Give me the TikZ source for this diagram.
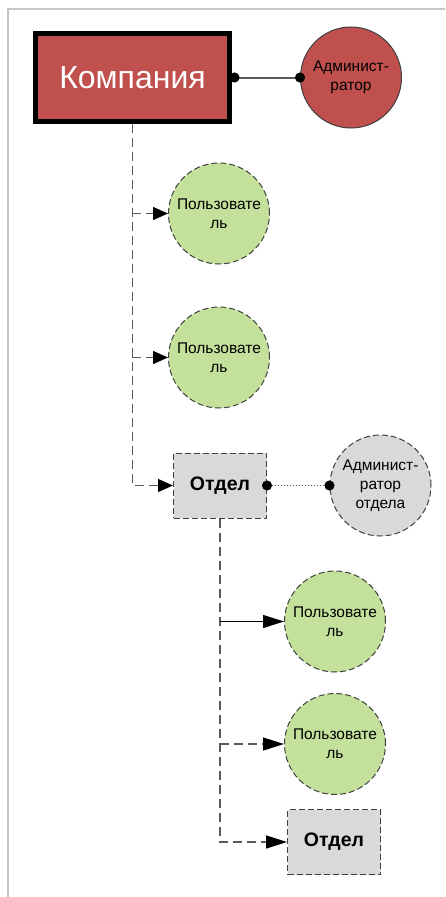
\documentclass[tikz,border=0pt]{standalone}
\usepackage{fontspec}
\setmainfont{Liberation Sans}
\usepackage{xcolor}
\usepackage{tikz}
\usetikzlibrary{positioning,arrows.meta}

\definecolor{compred}{RGB}{192,80,77}
\definecolor{usergreen}{RGB}{195,225,155}
\definecolor{deptgray}{RGB}{217,217,217}
\definecolor{edgegray}{RGB}{64,64,64}
\definecolor{linegray}{RGB}{90,90,90}

\begin{document}
\begin{tikzpicture}[node distance=136pt,
    >={Triangle[length=15pt,width=13pt,color=black]},
    company/.style={rectangle, draw=black, line width=5pt, fill=compred, minimum width=194pt, minimum height=88pt, text=white, font=\fontsize{32}{38}\selectfont},
    admin/.style={circle, draw=edgegray, line width=1pt, fill=compred, minimum size=101pt, inner sep=0pt, align=center, font=\fontsize{15.5}{19}\selectfont},
    user/.style={circle, draw=edgegray, line width=1pt, dash pattern=on 6pt off 3pt, fill=usergreen, minimum size=101pt, inner sep=0pt, align=center, font=\fontsize{15.5}{19}\selectfont},
    deptbox/.style={rectangle, draw=edgegray, line width=1pt, dash pattern=on 6pt off 3pt, fill=deptgray, minimum width=93pt, minimum height=65pt, font=\bfseries\fontsize{19.5}{23}\selectfont},
    dashline/.style={draw=linegray, line width=1.4pt, dash pattern=on 9pt off 5pt},
    fullline/.style={draw=black, line width=1.1pt},
    bigtip/.style={-{Triangle[length=21pt,width=13pt,color=black]}},
    dotends/.style={{Circle[length=10pt,color=black]}-{Circle[length=10pt,color=black]}, shorten <=-5pt, shorten >=-5pt}]
    \useasboundingbox (-132.5pt,77.5pt) rectangle (312.5pt,-819.5pt);
    \draw[gray!45, line width=2pt] (-124.5pt,-819.5pt) -- (-124.5pt,68.5pt) -- (312.5pt,68.5pt);

    \node (Comp) [company] {Компания};
    \node (Adm) [admin, right of=Comp, xshift=82.5pt] {Админист-\\ратор};
    \node (U1) [user, below of=Comp, xshift=86.5pt] {Пользовате\\ль};
    \node (U2) [user, below of=U1, yshift=-8pt] {Пользовате\\ль};
    \node (Dept) [deptbox, below of=U2, xshift=1pt, yshift=8pt] {Отдел};
    \node (AdmDept) [user, fill=deptgray, right of=Dept, xshift=24.5pt] {Админист-\\ратор\\отдела};
    \node (U3) [user, below of=Dept, xshift=115pt] {Пользовате\\ль};
    \node (U4) [user, below of=U3, yshift=13.5pt] {Пользовате\\ль};
    \node (Dept2) [deptbox, below of=U4, xshift=-1pt, yshift=38pt] {Отдел};

    \draw[dotends, linegray, line width=2pt] ([xshift=2.5pt]Comp.east) -- (Adm.west);
    \draw[dotends, linegray, line width=1pt, dotted] (Dept.east) -- (AdmDept.west);

    \draw[dashline, ->] (Comp.south) |- (Dept.west);
    \draw[dashline, ->] (Comp.south |- U1.west) -- (U1.west);
    \draw[dashline, ->] (Comp.south |- U2.west) -- (U2.west);

    \draw[dashline, bigtip] (Dept.south) |- (Dept2.west);
    \draw[fullline, bigtip] (Dept.south |- U3.west) -- (U3.west);
    \draw[dashline, bigtip] (Dept.south |- U4.west) -- (U4.west);
\end{tikzpicture}
\end{document}
